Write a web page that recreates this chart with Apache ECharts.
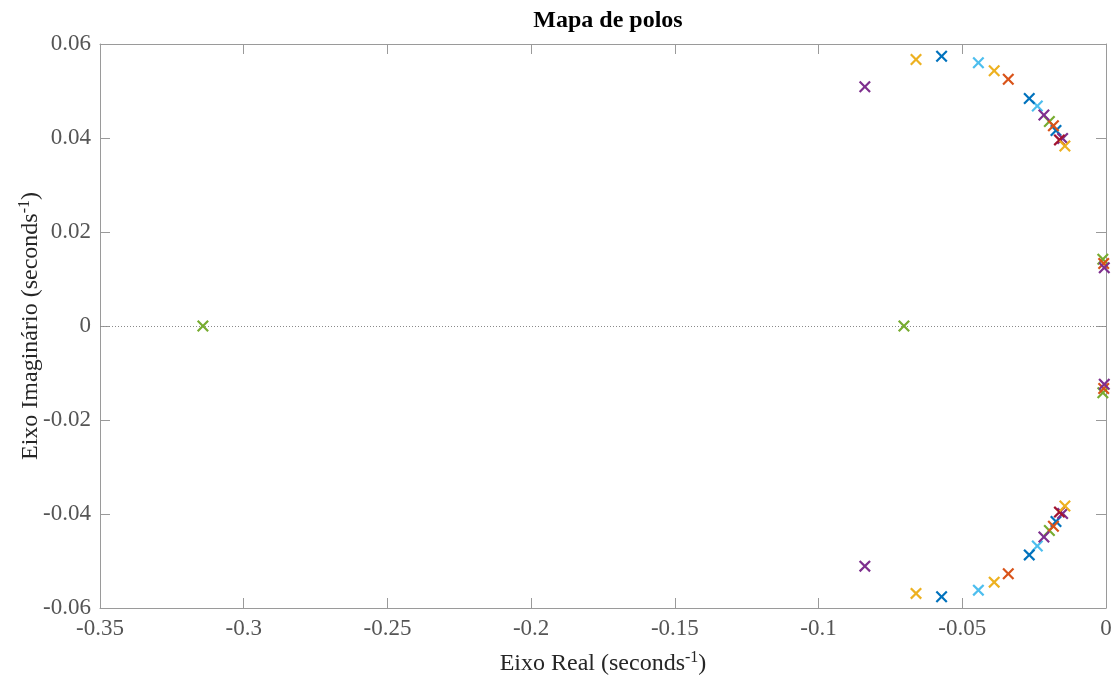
<!DOCTYPE html>
<html>
<head>
<meta charset="utf-8">
<style>
  html, body { margin: 0; padding: 0; background: #fff; }
  #chart { width: 1120px; height: 679px; }
</style>
<script src="https://cdn.jsdelivr.net/npm/echarts@6/dist/echarts.min.js"></script>
</head>
<body>
<div id="chart"></div>
<script>
// Pole locations [real, imaginary] per system (colour), in seconds^-1
const polesBlue = [
  [-0.0572, 0.0574], [-0.0572, -0.0576],
  [-0.0267, 0.0484], [-0.0267, -0.0487],
  [-0.0174, 0.0416], [-0.0174, -0.0416]
];
const polesOrange = [
  [-0.0340, 0.0525], [-0.0340, -0.0527],
  [-0.0183, 0.0426], [-0.0183, -0.0426],
  [-0.0008, 0.0133], [-0.0008, -0.0133]
];
const polesYellow = [
  [-0.0661, 0.0567], [-0.0661, -0.0569],
  [-0.0389, 0.0543], [-0.0389, -0.0545],
  [-0.0143, 0.0383], [-0.0143, -0.0383]
];
const polesPurple = [
  [-0.0839, 0.0509], [-0.0839, -0.0511],
  [-0.0216, 0.0449], [-0.0216, -0.0449],
  [-0.0151, 0.0399], [-0.0151, -0.0399],
  [-0.0006, 0.0124], [-0.0006, -0.0124]
];
const polesGreen = [
  [-0.3142, 0], [-0.0703, 0],
  [-0.0197, 0.0435], [-0.0197, -0.0435],
  [-0.0011, 0.0142], [-0.0011, -0.0142]
];
const polesLightBlue = [
  [-0.0444, 0.0560], [-0.0444, -0.0562],
  [-0.0239, 0.0468], [-0.0239, -0.0468]
];
const polesDarkRed = [
  [-0.0162, 0.0396], [-0.0162, -0.0396]
];

// Axis limits and tick spacing
const realAxis = { min: -0.35, max: 0, step: 0.05 };
const imagAxis = { min: -0.06, max: 0.06, step: 0.02 };

const titleText = 'Mapa de polos';
const xName = 'Eixo Real (seconds';
const yName = 'Eixo Imaginário (seconds';

const FONT = '"Liberation Serif", "Times New Roman", serif';
const AXIS_COLOR = '#9a9a9a';
const LABEL_COLOR = '#555555';

// Filled "x" marker
const CROSS = 'path://M0,1.3L1.3,0L5,3.7L8.7,0L10,1.3L6.3,5L10,8.7L8.7,10L5,6.3L1.3,10L0,8.7L3.7,5Z';

const groups = [
  { data: polesGreen,     color: '#77AC30' },
  { data: polesLightBlue, color: '#4DBEEE' },
  { data: polesBlue,      color: '#0072BD' },
  { data: polesOrange,    color: '#D95319' },
  { data: polesPurple,    color: '#7E2F8E' },
  { data: polesDarkRed,   color: '#A2142F' },
  { data: polesYellow,    color: '#EDB120' }
];

function fmt(v) {
  return String(Math.round(v * 1000) / 1000);
}

const nameRich = {
  n: { fontFamily: FONT, fontSize: 24, color: '#262626', lineHeight: 28 },
  s: { fontFamily: FONT, fontSize: 16, color: '#262626', lineHeight: 28, padding: [0, 0, 13, 0] }
};

function valueAxis(cfg, extra) {
  return Object.assign({
    type: 'value',
    min: cfg.min,
    max: cfg.max,
    interval: cfg.step,
    splitLine: { show: false },
    axisLine: { show: true, onZero: false, lineStyle: { color: AXIS_COLOR, width: 1 } },
    axisTick: { show: true, inside: true, length: 10, lineStyle: { color: AXIS_COLOR } },
    axisLabel: {
      fontFamily: FONT, fontSize: 23, color: LABEL_COLOR, margin: 9,
      formatter: fmt
    }
  }, extra);
}

const series = groups.map((g, i) => ({
  type: 'scatter',
  xAxisIndex: 0,
  yAxisIndex: 0,
  data: g.data,
  symbol: CROSS,
  symbolSize: 12,
  itemStyle: { color: g.color, opacity: 1 },
  silent: true,
  z: 3 + i
}));

// Dotted line along the real axis
series[0].markLine = {
  silent: true,
  symbol: 'none',
  label: { show: false },
  lineStyle: { color: '#8a8a8a', type: [1, 2], width: 1 },
  data: [{ yAxis: 0 }],
  z: 1
};

const chart = echarts.init(document.getElementById('chart'), null, { renderer: 'canvas' });
chart.setOption({
  backgroundColor: '#ffffff',
  animation: false,
  title: {
    text: titleText,
    left: 603,
    top: 4,
    textAlign: 'center',
    textStyle: { fontFamily: FONT, fontSize: 24, fontWeight: 'bold', color: '#000' }
  },
  grid: {
    left: 100, right: 14, top: 44, bottom: 71,
    containLabel: false,
    outerBoundsMode: 'none'
  },
  xAxis: [
    valueAxis(realAxis, {
      position: 'bottom',
      name: '{n|' + xName + '}{s|-1}{n|)}',
      nameLocation: 'middle',
      nameGap: 42,
      nameMoveOverlap: false,
      nameTextStyle: { rich: nameRich }
    }),
    valueAxis(realAxis, {
      position: 'top',
      axisLabel: { show: false }
    })
  ],
  yAxis: [
    valueAxis(imagAxis, {
      position: 'left',
      name: '{n|' + yName + '}{s|-1}{n|)}',
      nameLocation: 'middle',
      nameGap: 55,
      nameMoveOverlap: false,
      nameTextStyle: { rich: nameRich }
    }),
    valueAxis(imagAxis, {
      position: 'right',
      axisLabel: { show: false }
    })
  ],
  series: series
});
</script>
</body>
</html>
